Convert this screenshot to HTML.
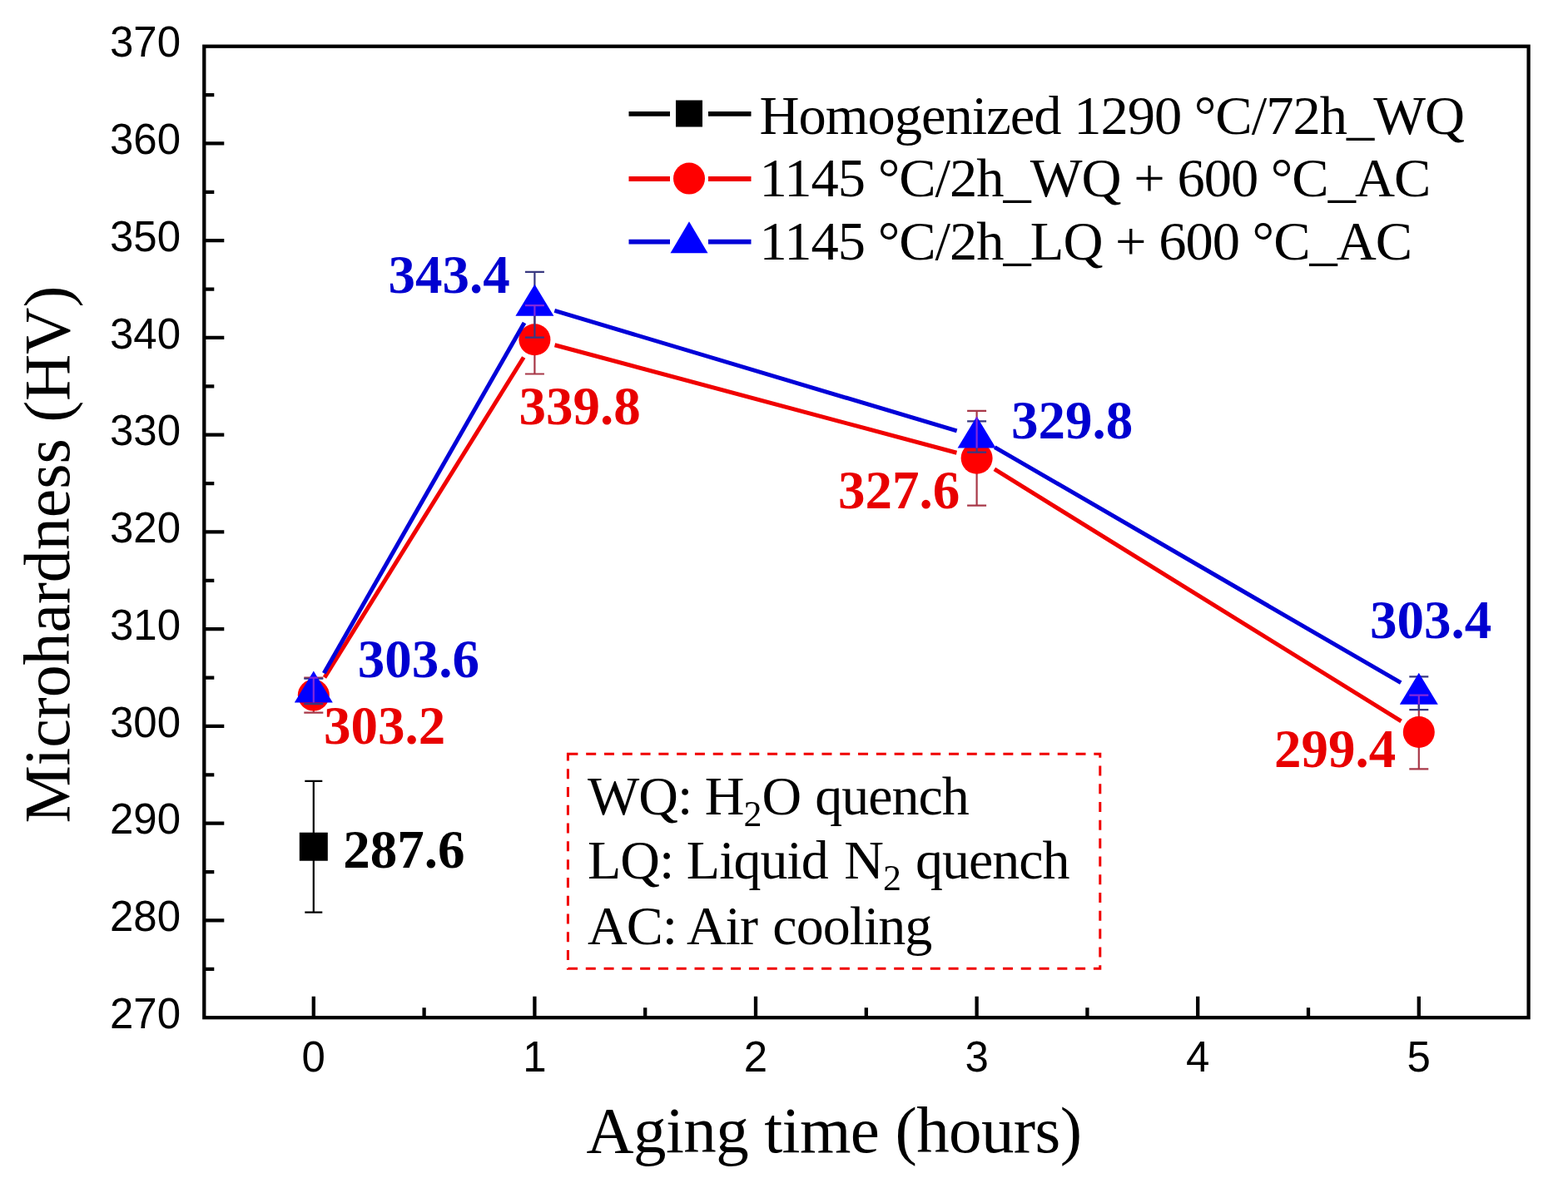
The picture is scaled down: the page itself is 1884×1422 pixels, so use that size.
<!DOCTYPE html>
<html><head><meta charset="utf-8"><style>
html,body{margin:0;padding:0;background:#fff;}
svg{display:block;}
.sans{font-family:"Liberation Sans",Arial,sans-serif;}
.serif{font-family:"Liberation Serif","Times New Roman",serif;}
</style></head><body>
<svg width="1884" height="1422" viewBox="0 0 1884 1422">
<rect width="1884" height="1422" fill="#fff"/>
<rect x="245.3" y="55.7" width="1591.30" height="1167.50" fill="none" stroke="#000" stroke-width="4.3"/>
<path d="M245.3 1164.83h12M245.3 1106.45h24M245.3 1048.08h12M245.3 989.70h24M245.3 931.33h12M245.3 872.95h24M245.3 814.58h12M245.3 756.20h24M245.3 697.83h12M245.3 639.45h24M245.3 581.08h12M245.3 522.70h24M245.3 464.32h12M245.3 405.95h24M245.3 347.57h12M245.3 289.20h24M245.3 230.82h12M245.3 172.45h24M245.3 114.08h12M376.80 1223.2v-25.5M509.60 1223.2v-12M642.40 1223.2v-25.5M775.20 1223.2v-12M908.00 1223.2v-25.5M1040.80 1223.2v-12M1173.60 1223.2v-25.5M1306.40 1223.2v-12M1439.20 1223.2v-25.5M1572.00 1223.2v-12M1704.80 1223.2v-25.5" stroke="#000" stroke-width="4.3" fill="none"/>
<g class="sans" font-size="51" fill="#000"><text x="217" y="1235.90" text-anchor="end">270</text><text x="217" y="1119.15" text-anchor="end">280</text><text x="217" y="1002.40" text-anchor="end">290</text><text x="217" y="885.65" text-anchor="end">300</text><text x="217" y="768.90" text-anchor="end">310</text><text x="217" y="652.15" text-anchor="end">320</text><text x="217" y="535.40" text-anchor="end">330</text><text x="217" y="418.65" text-anchor="end">340</text><text x="217" y="301.90" text-anchor="end">350</text><text x="217" y="185.15" text-anchor="end">360</text><text x="217" y="68.40" text-anchor="end">370</text><text x="376.80" y="1288" text-anchor="middle">0</text><text x="642.40" y="1288" text-anchor="middle">1</text><text x="908.00" y="1288" text-anchor="middle">2</text><text x="1173.60" y="1288" text-anchor="middle">3</text><text x="1439.20" y="1288" text-anchor="middle">4</text><text x="1704.80" y="1288" text-anchor="middle">5</text></g>
<line x1="390.00" y1="814.36" x2="629.20" y2="429.52" stroke="#f00000" stroke-width="5"/>
<line x1="666.55" y1="414.76" x2="1149.45" y2="544.25" stroke="#f00000" stroke-width="5"/>
<line x1="1194.85" y1="563.89" x2="1683.55" y2="866.78" stroke="#f00000" stroke-width="5"/>
<path d="M376.80 814.58V856.61M365.30 814.58H388.30M365.30 856.61H388.30" stroke="#a83848" stroke-width="2.2" fill="none"/>
<path d="M642.40 367.07V449.50M630.90 367.07H653.90M630.90 449.50H653.90" stroke="#a83848" stroke-width="2.2" fill="none"/>
<path d="M1173.60 493.86V607.58M1162.10 493.86H1185.10M1162.10 607.58H1185.10" stroke="#a83848" stroke-width="2.2" fill="none"/>
<path d="M1704.80 835.59V924.32M1693.30 835.59H1716.30M1693.30 924.32H1716.30" stroke="#a83848" stroke-width="2.2" fill="none"/>
<circle cx="376.80" cy="835.59" r="19" fill="#ff0000"/>
<circle cx="642.40" cy="408.28" r="19" fill="#ff0000"/>
<circle cx="1173.60" cy="550.72" r="19" fill="#ff0000"/>
<circle cx="1704.80" cy="879.96" r="19" fill="#ff0000"/>
<path d="M376.80 815.74V846.10M365.30 815.74H388.30M365.30 846.10H388.30" stroke="#383880" stroke-width="2.2" fill="none"/>
<path d="M642.40 326.91V405.60M630.90 326.91H653.90M630.90 405.60H653.90" stroke="#383880" stroke-width="2.2" fill="none"/>
<path d="M1173.60 506.35V543.71M1162.10 506.35H1185.10M1162.10 543.71H1185.10" stroke="#383880" stroke-width="2.2" fill="none"/>
<path d="M1704.80 813.41V853.10M1693.30 813.41H1716.30M1693.30 853.10H1716.30" stroke="#383880" stroke-width="2.2" fill="none"/>
<line x1="389.21" y1="809.22" x2="629.99" y2="387.96" stroke="#0000d8" stroke-width="5"/>
<line x1="666.35" y1="373.41" x2="1149.65" y2="517.88" stroke="#0000d8" stroke-width="5"/>
<line x1="1195.22" y1="537.58" x2="1683.18" y2="820.71" stroke="#0000d8" stroke-width="5"/>
<polygon points="376.80,806.41 399.80,844.41 353.80,844.41" fill="#0000ff"/><polygon points="642.40,341.75 665.40,379.75 619.40,379.75" fill="#0000ff"/><polygon points="1173.60,500.52 1196.60,538.52 1150.60,538.52" fill="#0000ff"/><polygon points="1704.80,808.75 1727.80,846.75 1681.80,846.75" fill="#0000ff"/>
<clipPath id="tc"><polygon points="376.80,806.41 399.80,844.41 353.80,844.41" fill="#0000ff"/><polygon points="642.40,341.75 665.40,379.75 619.40,379.75" fill="#0000ff"/><polygon points="1173.60,500.52 1196.60,538.52 1150.60,538.52" fill="#0000ff"/><polygon points="1704.80,808.75 1727.80,846.75 1681.80,846.75" fill="#0000ff"/></clipPath>
<g clip-path="url(#tc)"><path d="M376.80 814.58V856.61M365.30 814.58H388.30M365.30 856.61H388.30" stroke="#8228dc" stroke-width="2.2" fill="none"/><path d="M642.40 367.07V449.50M630.90 367.07H653.90M630.90 449.50H653.90" stroke="#8228dc" stroke-width="2.2" fill="none"/><path d="M1173.60 493.86V607.58M1162.10 493.86H1185.10M1162.10 607.58H1185.10" stroke="#8228dc" stroke-width="2.2" fill="none"/><path d="M1704.80 835.59V924.32M1693.30 835.59H1716.30M1693.30 924.32H1716.30" stroke="#8228dc" stroke-width="2.2" fill="none"/></g>
<path d="M376.80 938.91V1096.53M366.30 938.91H387.30M366.30 1096.53H387.30" stroke="#000" stroke-width="2.2" fill="none"/>
<rect x="359.80" y="1000.72" width="34" height="34" fill="#000"/>
<g class="serif" font-weight="bold" font-size="65"><text x="466.5" y="352.0" fill="#0000d0">343.4</text><text x="623.5" y="509.5" fill="#e80000">339.8</text><text x="1215" y="526.5" fill="#0000d0">329.8</text><text x="1007" y="611" fill="#e80000">327.6</text><text x="429.7" y="814" fill="#0000d0">303.6</text><text x="389" y="893.5" fill="#e80000">303.2</text><text x="1646" y="767" fill="#0000d0">303.4</text><text x="1531" y="921.5" fill="#e80000">299.4</text><text x="412.2" y="1043" fill="#000">287.6</text></g>
<path d="M755.5 136.8H805M851 136.8H902.5" stroke="#000" stroke-width="5.8"/><path d="M755.5 215H805M851 215H902.5" stroke="#f00000" stroke-width="5.8"/><path d="M755.5 290.7H805M851 290.7H902.5" stroke="#0000d8" stroke-width="5.8"/><rect x="812.00" y="120.50" width="32" height="32" fill="#000"/><circle cx="828.00" cy="214.60" r="19" fill="#ff0000"/><polygon points="828.00,266.18 850.50,304.18 805.50,304.18" fill="#0000ff"/>
<g class="serif" font-size="66.5" letter-spacing="-1" fill="#000"><text x="912.5" y="160.5">Homogenized 1290 °C/72h_WQ</text><text x="912.5" y="236.3">1145 °C/2h_WQ + 600 °C_AC</text><text x="912.5" y="312.4">1145 °C/2h_LQ + 600 °C_AC</text></g>
<rect x="682.4" y="906.2" width="639.4" height="258.1" fill="none" stroke="#f00000" stroke-width="3" stroke-dasharray="12 9.79"/>
<g class="serif" font-size="66" letter-spacing="-1" fill="#000"><text x="706" y="978.9">WQ: H<tspan font-size="44" dy="14">2</tspan><tspan dy="-14" dx="1">O</tspan><tspan dx="1.5"> quench</tspan></text><text x="706" y="1056.4">LQ: Liquid<tspan dx="4"> N</tspan><tspan font-size="44" dy="14">2</tspan><tspan dy="-14" dx="2.5"> quench</tspan></text><text x="706" y="1134.7">AC: Air<tspan dx="3"> cooling</tspan></text></g>
<text x="1002" y="1385.3" text-anchor="middle" letter-spacing="-0.6" class="serif" font-size="79">Aging time (hours)</text>
<text transform="translate(83,666.6) rotate(-90)" text-anchor="middle" class="serif" font-size="77.8">Microhardness (HV)</text>
</svg>
</body></html>
